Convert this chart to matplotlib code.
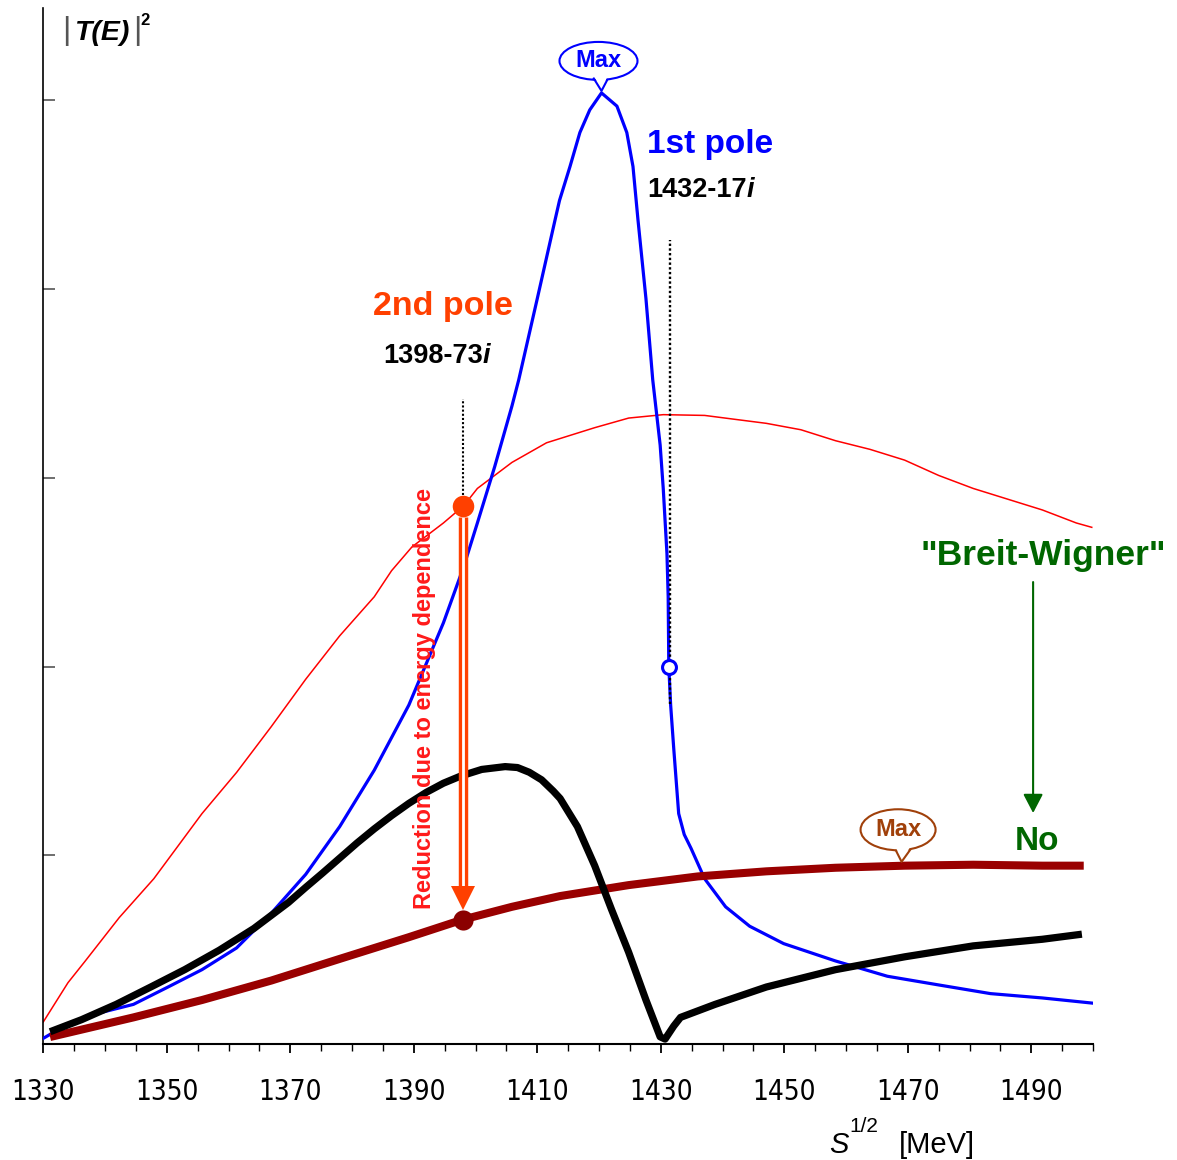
import matplotlib
matplotlib.use('Agg')
import matplotlib.pyplot as plt
from matplotlib.patches import Ellipse, Polygon
from matplotlib.lines import Line2D
from matplotlib.transforms import ScaledTranslation
import numpy as np

plt.rcParams['font.family'] = ['Liberation Sans', 'DejaVu Sans']

# |T(E)|^2 along sqrt(s) [MeV], arbitrary units
# thin red: energy independent "Breit-Wigner" shape
red_x = [1330.0, 1334.0, 1336.8, 1342.3, 1347.9, 1355.7, 1361.3, 1366.9, 1372.5, 1378.0,
         1383.6, 1386.4, 1389.7, 1394.8, 1398.1, 1400.3, 1405.9, 1411.5, 1415.3, 1419.3,
         1424.8, 1430.4, 1437.1, 1441.6, 1447.1, 1452.7, 1458.3, 1463.9, 1469.5, 1475.0,
         1480.6, 1486.2, 1491.8, 1497.3, 1499.8]
red_y = [0.117, 0.325, 0.440, 0.670, 0.876, 1.221, 1.439, 1.681, 1.933, 2.163,
         2.370, 2.508, 2.634, 2.761, 2.853, 2.944, 3.082, 3.186, 3.225, 3.266,
         3.317, 3.335, 3.331, 3.312, 3.289, 3.255, 3.197, 3.151, 3.094, 3.013,
         2.944, 2.887, 2.830, 2.761, 2.738]

# blue: first pole
blue_x = [1330.0, 1333.4, 1339.0, 1344.6, 1350.2, 1355.7, 1361.3, 1366.9, 1372.5, 1378.0,
          1383.6, 1389.2, 1394.8, 1398.1, 1400.3, 1403.1, 1405.9, 1407.0, 1410.0, 1412.9,
          1413.6, 1415.3, 1416.9, 1418.5, 1420.4, 1422.9, 1424.5, 1425.5, 1426.3, 1427.6,
          1428.7, 1429.9, 1430.4, 1431.0, 1431.2, 1431.3, 1431.6, 1432.1, 1432.9, 1433.8,
          1434.9, 1437.1, 1440.5, 1444.4, 1449.9, 1458.3, 1466.7, 1475.0, 1483.4, 1491.8,
          1499.8]
blue_y = [0.030, 0.095, 0.164, 0.210, 0.302, 0.394, 0.509, 0.692, 0.899, 1.152,
          1.451, 1.796, 2.232, 2.531, 2.761, 3.059, 3.381, 3.520, 3.950, 4.370,
          4.470, 4.650, 4.830, 4.950, 5.040, 4.970, 4.830, 4.650, 4.370, 3.950,
          3.519, 3.174, 2.944, 2.600, 2.370, 2.000, 1.796, 1.566, 1.221, 1.110,
          1.037, 0.876, 0.727, 0.624, 0.532, 0.440, 0.359, 0.313, 0.267, 0.244,
          0.217]

# black: full amplitude
black_x = [1331.1, 1336.2, 1341.8, 1347.4, 1352.9, 1358.5, 1364.1, 1369.7, 1372.5, 1375.2,
           1378.0, 1380.8, 1383.6, 1386.4, 1389.2, 1392.0, 1394.8, 1397.6, 1401.0, 1404.8,
           1406.8, 1408.7, 1410.7, 1412.6, 1413.7, 1416.5, 1419.3, 1422.0, 1424.8, 1427.6,
           1429.9, 1430.7, 1432.1, 1433.2, 1438.8, 1447.1, 1458.3, 1469.5, 1480.6, 1491.8,
           1498.2]
black_y = [0.065, 0.129, 0.210, 0.302, 0.394, 0.497, 0.612, 0.750, 0.830, 0.905,
           0.985, 1.065, 1.140, 1.210, 1.275, 1.333, 1.382, 1.420, 1.455, 1.470,
           1.465, 1.440, 1.400, 1.340, 1.301, 1.152, 0.945, 0.715, 0.486, 0.233,
           0.038, 0.026, 0.095, 0.141, 0.210, 0.302, 0.394, 0.462, 0.520, 0.555,
           0.582]

# dark red: second pole with energy dependent width
maroon_x = [1331.1, 1344.6, 1355.7, 1366.9, 1378.0, 1389.2, 1397.8, 1405.9, 1413.7, 1424.8,
            1436.0, 1447.1, 1458.3, 1469.5, 1480.6, 1491.8, 1498.5]
maroon_y = [0.037, 0.141, 0.233, 0.336, 0.451, 0.566, 0.658, 0.727, 0.784, 0.842,
            0.888, 0.915, 0.934, 0.945, 0.950, 0.945, 0.945]

pole1_re, pole1_label = 1431.3, '1432-17'
pole2_re, pole2_label = 1398.0, '1398-73'
maroon_max_x = 1469.0

x_major = np.arange(1330, 1501, 20)
x_minor = np.arange(1330, 1501, 5)

BLUE = '#0000FF'
ORANGE = '#FF4000'
MAROON = '#990000'
BROWN = '#A0400A'
GREEN = '#006600'

fig = plt.figure(figsize=(11.77, 11.6), dpi=100)
W, H = 1177, 1160
ax = fig.add_axes([43.3 / W, 1 - 1044 / H, (1093 - 43.3) / W, (1044 - 8) / H])
ax.set_xlim(1330, 1500)
ax.set_ylim(0, 5.49)

ax.plot(red_x, red_y, color='#FF0000', lw=1.1, zorder=2)
ax.plot(blue_x, blue_y, color=BLUE, lw=2.3, zorder=3)
ax.plot(maroon_x, maroon_y, color=MAROON, lw=5.8, solid_capstyle='butt', zorder=4)
ax.plot(black_x, black_y, color='black', lw=5.2, solid_capstyle='butt',
        solid_joinstyle='round', zorder=5)

# pole markers
y_or = np.interp(pole2_re, red_x, red_y)
y_mr = np.interp(pole2_re, maroon_x, maroon_y)
y_bl = np.interp(pole1_re, blue_x, blue_y)

ax.plot([pole2_re, pole2_re], [y_or + 0.06, 3.42], ls=(0, (1, 1)), color='black', lw=1.5, zorder=1)
ax.plot([pole1_re + 0.2] * 2, [1.80, 4.26], ls=(0, (1, 1)), color='black', lw=1.7, zorder=4)

# double line arrow from the red curve down to the dark red one
shaft_top = y_or - 0.06
tip = y_mr + 0.05
head_h = 23.6 / 188.7
ax.plot([pole2_re] * 2, [shaft_top, tip + head_h * 0.9], color=ORANGE, lw=6.8,
        solid_capstyle='butt', zorder=6)
ax.plot([pole2_re] * 2, [shaft_top, tip + head_h * 0.9], color='white', lw=2.0,
        solid_capstyle='butt', zorder=6)
ax.plot(pole2_re, tip + head_h / 2, marker='v', ms=17, color=ORANGE, mew=0, zorder=6)

ax.plot(pole2_re, y_or, 'o', ms=15.5, color=ORANGE, mew=0, zorder=7)
ax.plot(pole2_re, y_mr, 'o', ms=14.5, color='#8B0000', mew=0, zorder=7)
ax.plot(pole1_re, y_bl, 'o', ms=10, mfc='white', mec=BLUE, mew=2.2, zorder=7)


def bubble(x, y, color, lift, cx, cy, w, h, left, right):
    # speech bubble "Max" pointing at (x, y); offsets in pixels
    tr = fig.dpi_scale_trans + ScaledTranslation(x, y, ax.transData)
    p = lambda u, v: (u / 100.0, (v + lift) / 100.0)
    ax.add_patch(Ellipse(p(cx, cy), w / 100.0, h / 100.0, transform=tr, fc='white',
                         ec=color, lw=1.5, clip_on=False, zorder=10))
    ax.add_patch(Polygon([p(left[0], left[1] + 3), p(0, 0), p(right[0], right[1] + 3)],
                         closed=True, transform=tr, fc='white', ec='none',
                         clip_on=False, zorder=11))
    ax.add_line(Line2D([p(*left)[0], p(0, 0)[0], p(*right)[0]],
                       [p(*left)[1], p(0, 0)[1], p(*right)[1]],
                       transform=tr, color=color, lw=1.5, clip_on=False, zorder=11))
    ax.text(*p(cx, cy), 'Max', transform=tr, ha='center', va='center', color=color,
            fontsize=17, fontweight='bold', zorder=12)


def pole_value(x, y, label):
    # "1432-17i" with an italic i right after the number
    t = ax.text(x, y, label, color='black', fontsize=19.5, fontweight='bold')
    ax.annotate('i', xy=(1, 0), xycoords=t, va='bottom', ha='left', color='black',
                fontsize=19.5, fontweight='bold', style='italic')


i_max = int(np.argmax(blue_y))
bubble(blue_x[i_max], blue_y[i_max], BLUE, 2, -3, 30, 78, 38, (-7.7, 12.4), (5.6, 10.7))
bubble(maroon_max_x, np.interp(maroon_max_x, maroon_x, maroon_y), BROWN, 4,
       -3.5, 32, 75, 41, (-5.3, 10.5), (8.5, 11.8))

# labels for the two poles
ax.text(1427.8, 4.722, '1st pole', color=BLUE, fontsize=24, fontweight='bold')
pole_value(1427.8, 4.49, pole1_label)
ax.text(1383.4, 3.863, '2nd pole', color=ORANGE, fontsize=24.5, fontweight='bold')
pole_value(1385.0, 3.609, pole2_label)

ax.text(1391.7, 1.831, 'Reduction due to energy dependence', rotation=90, color='#FF1A1A',
        fontsize=17, fontweight='bold', ha='center', va='center', zorder=8)

ax.text(1492.0, 2.538, '"Breit-Wigner"', color=GREEN, fontsize=25.5, fontweight='bold',
        ha='center')
ax.annotate('', xy=(1490.3, 1.224), xytext=(1490.3, 2.448),
            arrowprops=dict(arrowstyle='-|>,head_length=1.15,head_width=0.6',
                            mutation_scale=10, color=GREEN, lw=1.5,
                            shrinkA=0, shrinkB=0))
ax.text(1491.0, 1.028, 'No', color=GREEN, fontsize=24, fontweight='bold', ha='center')

# y label |T(E)|^2
ax.text(1333.8, 5.366, '|', color='#555555', fontsize=23, ha='center', va='center')
ax.text(1335.1, 5.32, 'T(E)', fontsize=20.5, fontweight='bold', style='italic')
ax.text(1345.2, 5.366, '|', color='#555555', fontsize=23, ha='center', va='center')
ax.text(1345.7, 5.40, '2', fontsize=12, fontweight='bold')

# axes styling
for s in ['top', 'right']:
    ax.spines[s].set_visible(False)
ax.spines['left'].set_linewidth(1.2)
ax.spines['bottom'].set_linewidth(1.5)

ax.set_xticks(x_major)
ax.set_xticks(x_minor, minor=True)
ax.set_xticklabels([str(v) for v in x_major],
                   family=['Liberation Sans Narrow', 'DejaVu Sans'],
                   fontstretch='condensed', fontsize=20)
ax.tick_params(axis='x', which='major', direction='out', length=6.5, width=1.3, pad=18)
ax.tick_params(axis='x', which='minor', direction='out', length=5, width=1.0)
ax.set_yticks(range(6))
ax.set_yticklabels([])
ax.tick_params(axis='y', direction='in', length=8.6, width=1.2, color='#555555')

xt = ax.get_xaxis_transform()
ax.text(1457.3, -0.105, 'S', transform=xt, fontsize=21, style='italic', clip_on=False)
ax.text(1460.6, -0.085, '1/2', transform=xt, fontsize=15, clip_on=False)
ax.text(1468.5, -0.105, '[MeV]', transform=xt, fontsize=21, clip_on=False)

fig.savefig('out.png', dpi=100)
